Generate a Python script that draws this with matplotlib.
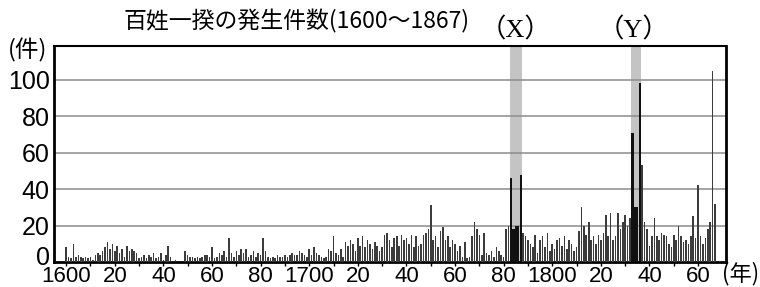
import numpy as np
import matplotlib.pyplot as plt
import matplotlib.transforms as mtransforms
from matplotlib import font_manager

# 百姓一揆の発生件数 1600-1867
years = np.arange(1600, 1868)
counts = [
    8, 3, 2, 10, 3, 4, 3, 2, 3, 2,          # 1600-
    3, 1, 4, 5, 4, 6, 8, 11, 7, 10,         # 1610-
    6, 9, 5, 7, 3, 9, 6, 7, 6, 5,           # 1620-
    2, 3, 4, 2, 4, 3, 5, 2, 3, 5,           # 1630-
    1, 4, 9, 3, 0, 1, 0, 0, 0, 6,           # 1640-
    4, 3, 3, 2, 3, 2, 3, 4, 4, 3,           # 1650-
    8, 2, 3, 5, 4, 6, 3, 13, 5, 3,          # 1660-
    6, 4, 7, 5, 7, 3, 4, 6, 3, 5,           # 1670-
    4, 13, 6, 3, 2, 3, 2, 4, 3, 3,          # 1680-
    4, 3, 4, 5, 4, 4, 6, 5, 4, 3,           # 1690-
    7, 4, 8, 5, 4, 3, 2, 3, 7, 6,           # 1700-
    14, 5, 4, 7, 3, 11, 9, 12, 10, 6,       # 1710-
    13, 9, 14, 8, 12, 10, 7, 11, 9, 6,      # 1720-
    8, 15, 16, 12, 8, 13, 14, 9, 15, 12,    # 1730-
    13, 10, 15, 8, 14, 9, 10, 15, 16, 18,   # 1740-
    31, 12, 14, 8, 17, 19, 12, 14, 8, 12,   # 1750-
    10, 6, 9, 3, 11, 2, 3, 14, 22, 18,      # 1760-
    15, 4, 16, 5, 4, 6, 3, 8, 6, 4,         # 1770-
    3, 18, 20, 46, 18, 20, 20, 48, 16, 14,  # 1780-
    12, 10, 8, 15, 5, 12, 14, 8, 16, 6,     # 1790-
    10, 7, 12, 13, 9, 14, 7, 12, 10, 6,     # 1800-
    8, 17, 30, 20, 15, 22, 12, 14, 10, 15,  # 1810-
    12, 16, 26, 14, 27, 12, 14, 27, 18, 22, # 1820-
    26, 20, 24, 71, 30, 30, 98, 53, 22, 18, # 1830-
    9, 14, 24, 14, 12, 16, 15, 14, 10, 8,   # 1840-
    15, 12, 20, 14, 11, 12, 10, 14, 25, 13, # 1850-
    42, 14, 10, 13, 18, 22, 105, 32,        # 1860-1867
]
famine_x = (1782.5, 1787.5)   # 天明
famine_y = (1832.5, 1836.5)   # 天保
xtick_years = [1600, 1620, 1640, 1660, 1680, 1700, 1720, 1740, 1760, 1780, 1800, 1820, 1840, 1860]
xtick_labels = ['1600', '20', '40', '60', '80', '1700', '20', '40', '60', '80', '1800', '20', '40', '60']
yticks = [0, 20, 40, 60, 80, 100]

installed = {f.name for f in font_manager.fontManager.ttflist}
num_font = 'Liberation Sans Narrow' if 'Liberation Sans Narrow' in installed else 'Liberation Sans'
jp = 'Noto Sans CJK JP'

fig = plt.figure(figsize=(7.6, 2.87), dpi=100)
ax = fig.add_axes([0.0711, 0.0871, 0.8842, 0.7526])

ax.set_xlim(1595, 1871.5)
ax.set_ylim(0, 118.5)

# famine bands
for lo, hi in (famine_x, famine_y):
    ax.axvspan(lo, hi, color='#c4c4c4', zorder=1, lw=0)

# bars inside the famine bands are drawn solid black as in the original
in_band = [(famine_x[0] < y < famine_x[1]) or (famine_y[0] < y < famine_y[1]) for y in years]
bar_colors = ['#111111' if b else '#3c3c3c' for b in in_band]
bar_widths = [0.95 if b else 0.65 for b in in_band]
ax.bar(years, counts, width=bar_widths, color=bar_colors, zorder=3, lw=0)

for y in yticks[1:]:
    ax.axhline(y, color='#8c8c8c', lw=1.1, zorder=2)

for s in ax.spines.values():
    s.set_color('black')
ax.spines['left'].set_linewidth(2)
ax.spines['right'].set_linewidth(2)
ax.spines['bottom'].set_linewidth(2)
ax.spines['top'].set_linewidth(1.5)

ax.set_yticks(yticks)
ax.set_yticklabels([str(v) for v in yticks], fontfamily=num_font, fontsize=18)
ax.tick_params(axis='y', length=0, pad=3)
ax.set_xticks(xtick_years)
ax.set_xticklabels(xtick_labels, fontfamily=num_font, fontsize=16)
ax.set_xticks(np.arange(1610, 1870, 20), minor=True)
ax.tick_params(axis='x', which='both', direction='out', length=3, width=1, pad=0)

# nudge the 0 label up like the original
lab0 = ax.get_yticklabels()[0]
lab0.set_transform(lab0.get_transform() + mtransforms.ScaledTranslation(0, 7 / 100, fig.dpi_scale_trans))

fig.text(0.39, 0.925, '百姓一揆の発生件数(1600～1867)', fontfamily=[jp, 'DejaVu Sans'],
         fontsize=16.5, ha='center', va='center')
fig.text(0.036, 0.826, '(件)', fontfamily=[jp], fontsize=17, ha='center', va='center')
fig.text(0.974, 0.045, '(年)', fontfamily=[jp], fontsize=16, ha='center', va='center')
fig.text(0.678, 0.895, '（X）', fontfamily=['Liberation Serif', jp], fontsize=19, ha='center', va='center')
fig.text(0.833, 0.895, '（Y）', fontfamily=['Liberation Serif', jp], fontsize=19, ha='center', va='center')

fig.savefig('out.png', dpi=100)
